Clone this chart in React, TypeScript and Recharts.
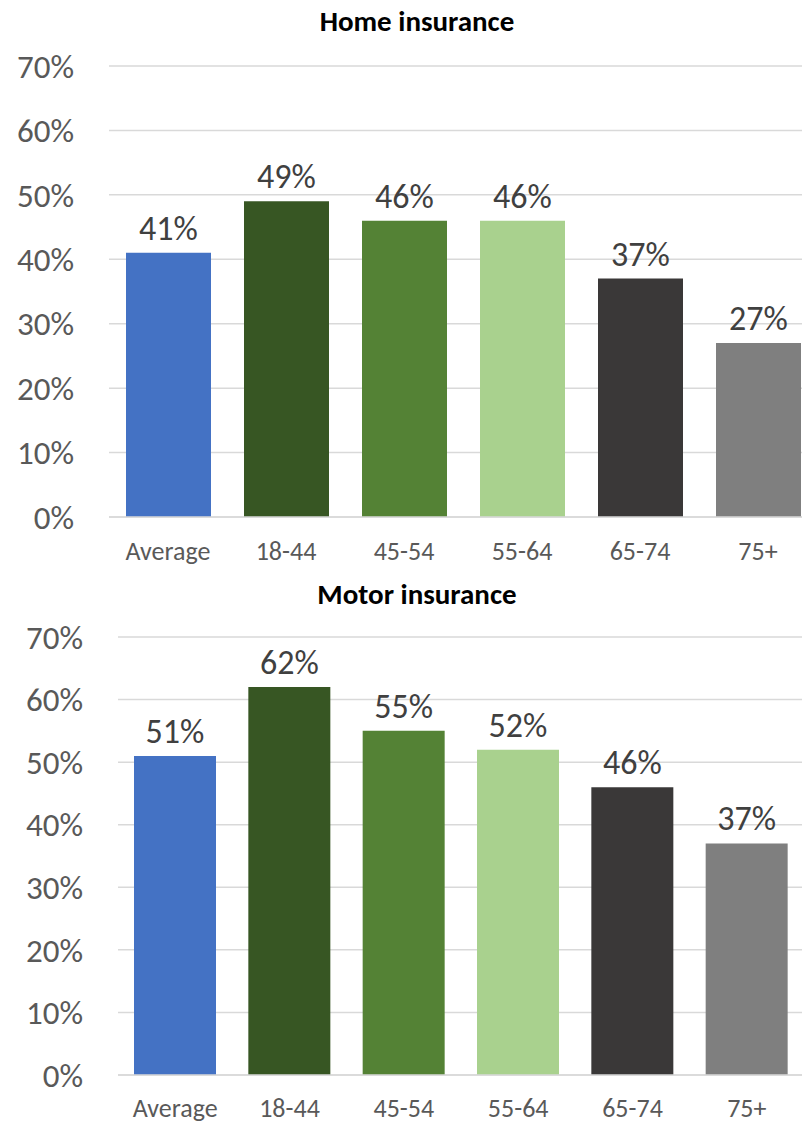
import { BarChart, Bar, XAxis, YAxis, CartesianGrid, Cell, LabelList } from 'recharts';

const ageGroups = ['Average', '18-44', '45-54', '55-64', '65-74', '75+'];
const homeInsurance = [41, 49, 46, 46, 37, 27];
const motorInsurance = [51, 62, 55, 52, 46, 37];
const yTicks = [0, 10, 20, 30, 40, 50, 60, 70];

const barColors = ['#4472C4', '#375623', '#548235', '#A9D18E', '#3A3838', '#7F7F7F'];
const fontFamily = 'Carlito, Calibri, Lato, sans-serif';

const pct = (v: number) => `${v}%`;

type PanelProps = {
  title: string;
  values: number[];
  top: number;
  width: number;
  height: number;
  yAxisWidth: number;
  marginTop: number;
  xAxisHeight: number;
  barSize: number;
  titleTop: number;
  tickMargin: number;
};

function Panel({ title, values, top, width, height, yAxisWidth, marginTop, xAxisHeight, barSize, titleTop, tickMargin }: PanelProps) {
  const data = ageGroups.map((group, i) => ({ group, value: values[i] }));
  return (
    <div style={{ position: 'absolute', left: 0, top, width, height }}>
      <div
        style={{
          position: 'absolute',
          left: 0,
          width: 834,
          top: titleTop,
          textAlign: 'center',
          fontFamily,
          fontWeight: 700,
          fontSize: 29,
          lineHeight: '29px',
          color: '#000',
        }}
      >
        {title}
      </div>
      <BarChart width={width} height={height} data={data} margin={{ top: marginTop, right: 0, left: 0, bottom: 0 }}>
        <CartesianGrid vertical={false} stroke="#D9D9D9" strokeWidth={1.5} />
        <XAxis
          dataKey="group"
          height={xAxisHeight}
          axisLine={{ stroke: '#D9D9D9', strokeWidth: 1.5 }}
          tickLine={false}
          tickSize={0}
          tickMargin={tickMargin}
          tick={{ fill: '#595959', fontSize: 26, fontFamily }}
          interval={0}
        />
        <YAxis
          width={yAxisWidth}
          domain={[0, 70]}
          ticks={yTicks}
          tickFormatter={pct}
          axisLine={false}
          tickLine={false}
          tickSize={0}
          tickMargin={35}
          tick={{ fill: '#595959', fontSize: 33, fontFamily }}
        />
        <Bar dataKey="value" barSize={barSize} isAnimationActive={false}>
          {data.map((d, i) => (
            <Cell key={d.group} fill={barColors[i]} />
          ))}
          <LabelList dataKey="value" position="top" offset={13} formatter={pct} fill="#404040" fontSize={34} fontFamily={fontFamily} />
        </Bar>
      </BarChart>
    </div>
  );
}

export default function App() {
  return (
    <div style={{ position: 'absolute', left: 0, top: 0, width: 802, height: 1124, overflow: 'hidden', background: '#fff' }}>
      <Panel
        title="Home insurance"
        values={homeInsurance}
        top={0}
        width={817}
        height={580}
        yAxisWidth={109}
        marginTop={66}
        xAxisHeight={63}
        barSize={85}
        titleTop={7}
        tickMargin={25}
      />
      <Panel
        title="Motor insurance"
        values={motorInsurance}
        top={580}
        width={804}
        height={544}
        yAxisWidth={118}
        marginTop={57}
        xAxisHeight={49}
        barSize={82}
        titleTop={0}
        tickMargin={24}
      />
    </div>
  );
}
